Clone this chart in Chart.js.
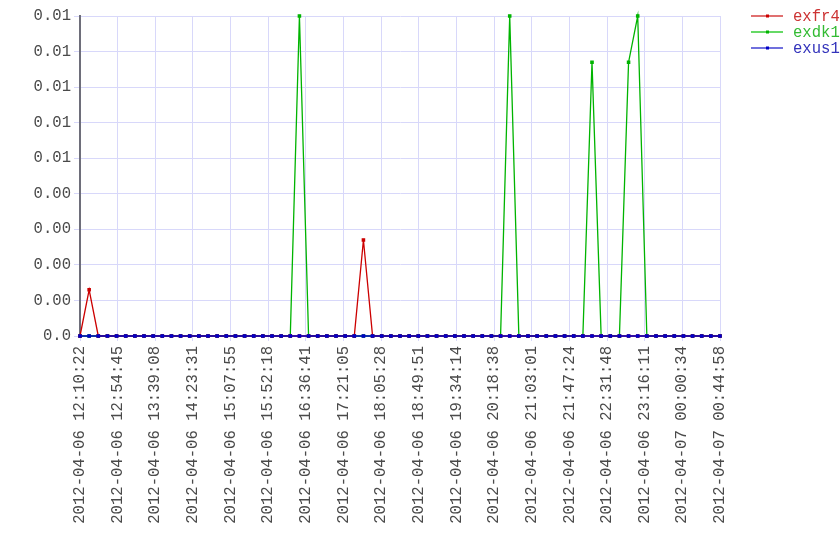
<!DOCTYPE html>
<html>
<head>
<meta charset="utf-8">
<script src="https://cdn.jsdelivr.net/npm/chart.js@4/dist/chart.umd.min.js"></script>
<style>
  html, body { margin: 0; padding: 0; background: #fff; }
</style>
</head>
<body>
<canvas id="chart" width="840" height="560"></canvas>
<script>
// x tick labels (evenly spaced between first and last sample)
const xTickLabels = [
  "2012-04-06 12:10:22", "2012-04-06 12:54:45", "2012-04-06 13:39:08",
  "2012-04-06 14:23:31", "2012-04-06 15:07:55", "2012-04-06 15:52:18",
  "2012-04-06 16:36:41", "2012-04-06 17:21:05", "2012-04-06 18:05:28",
  "2012-04-06 18:49:51", "2012-04-06 19:34:14", "2012-04-06 20:18:38",
  "2012-04-06 21:03:01", "2012-04-06 21:47:24", "2012-04-06 22:31:48",
  "2012-04-06 23:16:11", "2012-04-07 00:00:34", "2012-04-07 00:44:58"
];

const yTicks = [0, 0.001, 0.002, 0.003, 0.004, 0.005, 0.006, 0.007, 0.008, 0.009];
const yTickLabels = ["0.0", "0.00", "0.00", "0.00", "0.00", "0.01", "0.01", "0.01", "0.01", "0.01"];

const seriesNames = ["exfr4", "exdk1", "exus1"];

// 71 samples each
const exfr4 = [
  0, 0.0013, 0, 0, 0, 0, 0, 0, 0, 0,
  0, 0, 0, 0, 0, 0, 0, 0, 0, 0,
  0, 0, 0, 0, 0, 0, 0, 0, 0, 0,
  0, 0.0027, 0, 0, 0, 0, 0, 0, 0, 0,
  0, 0, 0, 0, 0, 0, 0, 0, 0, 0,
  0, 0, 0, 0, 0, 0, 0, 0, 0, 0,
  0, 0, 0, 0, 0, 0, 0, 0, 0, 0,
  0
];

const exdk1 = [
  0, 0, 0, 0, 0, 0, 0, 0, 0, 0,
  0, 0, 0, 0, 0, 0, 0, 0, 0, 0,
  0, 0, 0, 0, 0.009, 0, 0, 0, 0, 0,
  0, 0, 0, 0, 0, 0, 0, 0, 0, 0,
  0, 0, 0, 0, 0, 0, 0, 0.009, 0, 0,
  0, 0, 0, 0, 0, 0, 0.0077, 0, 0, 0,
  0.0077, 0.009, 0, 0, 0, 0, 0, 0, 0, 0,
  0
];

const exus1 = [
  0, 0, 0, 0, 0, 0, 0, 0, 0, 0,
  0, 0, 0, 0, 0, 0, 0, 0, 0, 0,
  0, 0, 0, 0, 0, 0, 0, 0, 0, 0,
  0, 0, 0, 0, 0, 0, 0, 0, 0, 0,
  0, 0, 0, 0, 0, 0, 0, 0, 0, 0,
  0, 0, 0, 0, 0, 0, 0, 0, 0, 0,
  0, 0, 0, 0, 0, 0, 0, 0, 0, 0,
  0
];

const lineColors = ["#cc0000", "#00b400", "#0000c8"];
const legendLineColors = ["#e07070", "#66d966", "#7070dd"];
const legendTextColors = ["#cc3333", "#33bb33", "#3333bb"];
const FONT = "'Liberation Mono', 'DejaVu Sans Mono', monospace";
const FONT_SIZE = 15.6;

const toPoints = arr => arr.map((v, i) => ({ x: i, y: v }));
const lastIndex = exus1.length - 1;

const sideLegend = {
  id: "sideLegend",
  afterDraw(chart) {
    const ctx = chart.ctx;
    ctx.save();
    ctx.font = FONT_SIZE + "px " + FONT;
    ctx.textBaseline = "middle";
    chart.data.datasets.forEach((ds, i) => {
      const y = 16 + i * 16;
      ctx.strokeStyle = legendLineColors[i];
      ctx.lineWidth = 2;
      ctx.beginPath();
      ctx.moveTo(751, y);
      ctx.lineTo(783, y);
      ctx.stroke();
      ctx.fillStyle = lineColors[i];
      ctx.fillRect(766, y - 1.5, 3, 3);
      ctx.fillStyle = legendTextColors[i];
      ctx.fillText(ds.label, 793, y + 1);
    });
    ctx.restore();
  }
};

const mkDataset = (name, values, i, order) => ({
  label: name,
  data: toPoints(values),
  borderColor: lineColors[i],
  backgroundColor: lineColors[i],
  borderWidth: 1.3,
  pointRadius: 1.6,
  pointStyle: "rect",
  pointHoverRadius: 2,
  tension: 0,
  clip: false,
  order: order
});

new Chart(document.getElementById("chart"), {
  type: "line",
  data: {
    datasets: [
      mkDataset(seriesNames[0], exfr4, 0, 1),
      mkDataset(seriesNames[1], exdk1, 1, 2),
      mkDataset(seriesNames[2], exus1, 2, 0)
    ]
  },
  options: {
    responsive: false,
    animation: false,
    layout: { padding: { top: 16, right: 120, left: 0, bottom: 0 } },
    plugins: {
      legend: { display: false },
      tooltip: { enabled: false }
    },
    scales: {
      x: {
        type: "linear",
        min: 0,
        max: lastIndex,
        afterBuildTicks: s => {
          s.ticks = xTickLabels.map((_, i) => ({ value: i * lastIndex / (xTickLabels.length - 1) }));
        },
        afterFit: s => { s.height = 224; },
        grid: { color: "#d8d8fa", lineWidth: 1, tickLength: 5 },
        border: { color: "#d8d8fa" },
        ticks: {
          autoSkip: false,
          minRotation: 90,
          maxRotation: 90,
          padding: 5,
          color: "#4a4a4a",
          font: { family: FONT, size: FONT_SIZE },
          callback: (v, i) => xTickLabels[i]
        }
      },
      y: {
        min: 0,
        max: 0.009,
        afterBuildTicks: s => {
          s.ticks = yTicks.map(v => ({ value: v }));
        },
        afterFit: s => { s.width = 80; },
        grid: { color: "#d8d8fa", lineWidth: 1, tickLength: 6 },
        border: { color: "#6e6e7a", width: 2 },
        ticks: {
          padding: 3,
          color: "#4a4a4a",
          font: { family: FONT, size: FONT_SIZE },
          callback: (v, i) => yTickLabels[i]
        }
      }
    }
  },
  plugins: [sideLegend]
});
</script>
</body>
</html>
